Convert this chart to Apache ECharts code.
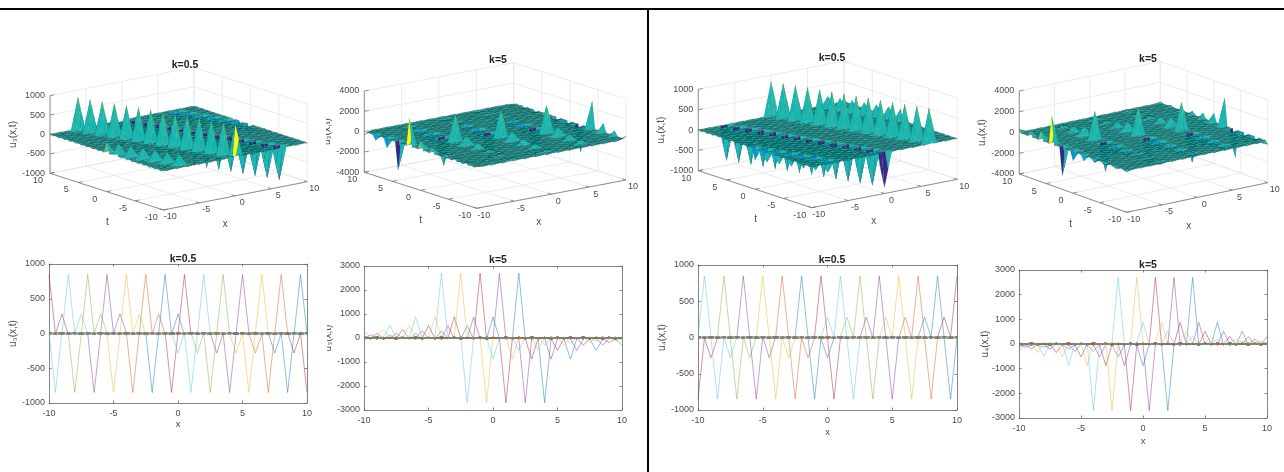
<!DOCTYPE html>
<html><head><meta charset="utf-8">
<style>html,body{margin:0;padding:0;background:#fff;overflow:hidden}
#main{position:absolute;left:0;top:0;width:1284px;height:472px;filter:blur(0.6px)}
#rules{position:absolute;left:0;top:0;width:1284px;height:472px}</style>
<script src="https://cdn.jsdelivr.net/npm/echarts@6/dist/echarts.min.js"></script>
</head><body><div id="main"></div><div id="rules"></div>
<script>
// ---- values ----
const xTicks = [-10,-5,0,5,10];
const tTicks = [-10,-5,0,5,10];
const zTicksK05 = [-1000,-500,0,500,1000];
const zTicksK5 = [-4000,-2000,0,2000,4000];
const yTicksK05 = [-1000,-500,0,500,1000];
const yTicksK5 = [-3000,-2000,-1000,0,1000,2000,3000];
const gridValues = [-10,-9.5,-9,-8.5,-8,-7.5,-7,-6.5,-6,-5.5,-5,-4.5,-4,-3.5,-3,-2.5,-2,-1.5,-1,-0.5,0,0.5,1,1.5,2,2.5,3,3.5,4,4.5,5,5.5,6,6.5,7,7.5,8,8.5,9,9.5,10];
const matlabColors = ['#0072BD','#D95319','#EDB120','#7E2F8E','#77AC30','#4DBEEE','#A2142F'];
const parulaStops = [[53,42,135],[15,92,221],[18,125,216],[7,156,207],[28,184,178],[89,189,140],[165,190,107],[225,185,82],[249,251,14]];
const rippleK05 = [12,-9,14,-11,8,-13,10,-8,13,-12,9,-10,14,-9,11,-13,8,-10,12,-14,9,-8,13,-11,10,-12,14,-9,8,-13,11,-10,12,-8,14,-11,9,-13,10,-12,8];
const rippleK5 = [42,-30,55,-38,26,-48,34,-28,50,-40,30,-36,52,-26,38,-46,28,-34,44,-50,30,-28,48,-36,34,-42,54,-30,26,-46,40,-32,44,-28,52,-38,30,-48,36,-42,28];
const columnRippleShare = [1,-0.6,0.4];

const u3k05Spikes = [
 [-6.5,9.5,850],[-6,8,850],[-5.5,6.5,850],[-5,5,850],[-4.5,3.5,850],[-4,2,850],[-3.5,0.5,850],[-3,-1,850],[-2.5,-2.5,850],[-2,-4,850],[-1.5,-5.5,850],[-1,-7,850],[-0.5,-8.5,850],[0,-10,850],
 [0,10,-850],[0.5,8.5,-850],[1,7,-850],[1.5,5.5,-850],[2,4,-850],[2.5,2.5,-850],[3,1,-850],[3.5,-0.5,-850],[4,-2,-850],[4.5,-3.5,-850],[5,-5,-850],[5.5,-6.5,-850],[6,-8,-850],[6.5,-9.5,-850],
 [-10,0,280],[-9.5,-1.5,280],[-9,-3,280],[-8.5,-4.5,280],[-8,-6,280],[-7.5,-7.5,280],[-7,-9,280],
 [10,0,-280],[9.5,1.5,-280],[9,3,-280],[8.5,4.5,-280],[8,6,-280],[7.5,7.5,-280],[7,9,-280]];
const u4k05Spikes = [
 [-6.5,9.5,-850],[-6,8,-850],[-5.5,6.5,-850],[-5,5,-850],[-4.5,3.5,-850],[-4,2,-850],[-3.5,0.5,-850],[-3,-1,-850],[-2.5,-2.5,-850],[-2,-4,-850],[-1.5,-5.5,-850],[-1,-7,-850],[-0.5,-8.5,-850],[0,-10,-850],
 [0,10,850],[0.5,8.5,850],[1,7,850],[1.5,5.5,850],[2,4,850],[2.5,2.5,850],[3,1,850],[3.5,-0.5,850],[4,-2,850],[4.5,-3.5,850],[5,-5,850],[5.5,-6.5,850],[6,-8,850],[6.5,-9.5,850],
 [-10,0,-280],[-9.5,-1.5,-280],[-9,-3,-280],[-8.5,-4.5,-280],[-8,-6,-280],[-7.5,-7.5,-280],[-7,-9,-280],
 [10,0,280],[9.5,1.5,280],[9,3,280],[8.5,4.5,280],[8,6,280],[7.5,7.5,280],[7,9,280]];
const u3k5Spikes = [
 [-10,2,2700],[-10,0,880],[-10,-2,520],[-10,-4,300],[-10,-6,200],[-10,-8,130],[-10,-10,90],[-10,4,-2700],[-10,6,-880],[-10,8,-520],[-10,10,-300],
 [-5,0.5,2700],[-5,-1.5,880],[-5,-3.5,520],[-5,-5.5,300],[-5,-7.5,200],[-5,-9.5,130],[-5,2.5,-2700],[-5,4.5,-880],[-5,6.5,-520],[-5,8.5,-300],
 [0,-1,2700],[0,-3,880],[0,-5,520],[0,-7,350],[0,-9,200],[0,1,-2700],[0,3,-880],[0,5,-520],[0,7,-300],[0,9,-200],
 [5,-2.5,2700],[5,-4.5,880],[5,-6.5,520],[5,-8.5,350],[5,-0.5,-2700],[5,1.5,-880],[5,3.5,-520],[5,5.5,-300],[5,7.5,-200],[5,9.5,-130],
 [10,-4,2700],[10,-6,880],[10,-8,520],[10,-10,300],[10,-2,-2700],[10,0,-880],[10,2,-520],[10,4,-300],[10,6,-200],[10,8,-130],[10,10,-90]];
const u4k5Spikes = [
 [-10,2,-2700],[-10,0,-880],[-10,-2,-520],[-10,-4,-300],[-10,-6,-200],[-10,-8,-130],[-10,-10,-90],[-10,4,2700],[-10,6,880],[-10,8,520],[-10,10,300],
 [-5,0.5,-2700],[-5,-1.5,-880],[-5,-3.5,-520],[-5,-5.5,-300],[-5,-7.5,-200],[-5,-9.5,-130],[-5,2.5,2700],[-5,4.5,880],[-5,6.5,520],[-5,8.5,300],
 [0,-1,-2700],[0,-3,-880],[0,-5,-520],[0,-7,-350],[0,-9,-200],[0,1,2700],[0,3,880],[0,5,520],[0,7,300],[0,9,200],
 [5,-2.5,-2700],[5,-4.5,-880],[5,-6.5,-520],[5,-8.5,-350],[5,-0.5,2700],[5,1.5,880],[5,3.5,520],[5,5.5,300],[5,7.5,200],[5,9.5,130],
 [10,-4,-2700],[10,-6,-880],[10,-8,-520],[10,-10,-300],[10,-2,2700],[10,0,880],[10,2,520],[10,4,300],[10,6,200],[10,8,130],[10,10,90]];

// ---- helpers ----
const FONT = '"Liberation Sans",Arial,sans-serif';
const TXT = '#4a4a4a';
function buildSurface(spikes, ripple){
  const Z = gridValues.map((_,j)=>gridValues.map((_,i)=>ripple[i]*columnRippleShare[j%3]));
  spikes.forEach(s=>{Z[gridValues.indexOf(s[0])][gridValues.indexOf(s[1])] = s[2];});
  return Z;
}
// surface mesh height: each spike also carries its x-neighbours at half height, as the fat cones in the 3-D views do
function buildMeshHeights(spikes, Z){
  const G = Z.map(c=>c.slice());
  spikes.forEach(s=>{
    const j=gridValues.indexOf(s[0]), i=gridValues.indexOf(s[1]);
    [j-1,j+1].forEach(n=>{ if(n>=0&&n<G.length&&Math.abs(G[n][i])<Math.abs(s[2])/2) G[n][i]=s[2]/2; });
  });
  return G;
}
function parula(f){
  const p = Math.max(0,Math.min(1,f))*(parulaStops.length-1), i = Math.min(Math.floor(p),parulaStops.length-2), d = p-i;
  const c = [0,1,2].map(k=>Math.round(parulaStops[i][k]+(parulaStops[i+1][k]-parulaStops[i][k])*d));
  return 'rgb('+c.join(',')+')';
}
const grids=[],xAxes=[],yAxes=[],series=[],titles=[];
function addTitle(text,cx,cy){
  titles.push({text,left:cx,top:cy-8.5,textAlign:'center',textStyle:{fontFamily:FONT,fontSize:10.5,fontWeight:'bold',color:'#222'}});
}
function addSurfacePanel(cfg){
  const Z = buildSurface(cfg.spikes,cfg.ripple), G = buildMeshHeights(cfg.spikes,Z), zT = cfg.zTicks, zMin=zT[0], zMax=zT[zT.length-1];
  const all = Z.flat(), cMin=Math.min(...all), cMax=Math.max(...all), steep=cMax*0.12;
  const L=cfg.L,F=cfg.F,R=cfg.R,H=cfg.H;
  const left=L[0], right=R[0], bottom=F[1], top=L[1]+R[1]-F[1]-H-4;
  const gi=grids.length;
  grids.push({left,top,width:right-left,height:bottom-top,show:false});
  xAxes.push({gridIndex:gi,type:'value',min:0,max:1,show:false});
  yAxes.push({gridIndex:gi,type:'value',min:0,max:1,show:false});
  const view=(x,t,z)=>{
    const a=(x+10)/20,b=(t+10)/20,c=(z-zMin)/(zMax-zMin);
    const sx=F[0]+a*(R[0]-F[0])+b*(L[0]-F[0]);
    const sy=F[1]+a*(R[1]-F[1])+b*(L[1]-F[1])-c*H;
    return [(sx-left)/(right-left),(bottom-sy)/(bottom-top)];
  };
  const seg=[];
  const light='#e6e6e6',dark='#777';
  xTicks.forEach(x=>{seg.push([x,-10,zMin,x,10,zMin,light]);seg.push([x,10,zMin,x,10,zMax,light]);});
  tTicks.forEach(t=>{seg.push([-10,t,zMin,10,t,zMin,light]);seg.push([10,t,zMin,10,t,zMax,light]);});
  zT.forEach(z=>{seg.push([-10,10,z,10,10,z,light]);seg.push([10,10,z,10,-10,z,light]);});
  seg.push([-10,10,zMin,-10,10,zMax,dark],[-10,10,zMin,-10,-10,zMin,dark],[-10,-10,zMin,10,-10,zMin,dark]);
  xTicks.forEach(x=>seg.push([x,-10,zMin,x,-9.4,zMin,dark]));
  tTicks.forEach(t=>seg.push([-10,t,zMin,-9.4,t,zMin,dark]));
  zT.forEach(z=>seg.push([-10,10,z,-9.4,10,z,dark]));
  series.push({type:'custom',coordinateSystem:'cartesian2d',xAxisIndex:gi,yAxisIndex:gi,silent:true,z:1,clip:false,animation:false,progressive:0,
    data:seg.map(s=>s.slice(0,6)),
    renderItem:(p,api)=>{const s=seg[p.dataIndex];const a=api.coord(view(s[0],s[1],s[2])),b=api.coord(view(s[3],s[4],s[5]));
      return {type:'line',shape:{x1:a[0],y1:a[1],x2:b[0],y2:b[1]},style:{stroke:s[6],lineWidth:0.8}};}});
  const faces=[];
  for(let i=gridValues.length-2;i>=0;i--)for(let j=gridValues.length-2;j>=0;j--)faces.push([j,i]);
  const deepest=(j,i)=>{ // the far wall of a pit shows the colour of the pit's floor
    const here=Z[j][i], next=Z[j+1][i];
    return next<here&&next<-steep ? next : here;
  };
  series.push({type:'custom',coordinateSystem:'cartesian2d',xAxisIndex:gi,yAxisIndex:gi,silent:true,z:2,clip:false,animation:false,progressive:0,
    data:faces,
    renderItem:(p,api)=>{const f=faces[p.dataIndex],j=f[0],i=f[1];
      const corners=[[j,i],[j+1,i],[j+1,i+1],[j,i+1]];
      const pts=corners.map(q=>api.coord(view(gridValues[q[0]],gridValues[q[1]],G[q[0]][q[1]])));
      const isSteep=corners.some(q=>Math.abs(G[q[0]][q[1]])>steep);
      return {type:'polygon',shape:{points:pts},style:{fill:parula((deepest(j,i)-cMin)/(cMax-cMin)),stroke:isSteep?'rgba(0,40,40,0.12)':'rgba(0,0,0,0.52)',lineWidth:0.45}};}});
  const labels=[];
  const pos=(x,t,z,dx,dy)=>{return {v:view(x,t,z),dx,dy};};
  xTicks.forEach(x=>labels.push({text:String(x),at:pos(x,-10,zMin,7,7),align:'center'}));
  tTicks.forEach(t=>labels.push({text:String(t),at:pos(-10,t,zMin,-12,7.5),align:'center'}));
  zT.forEach(z=>labels.push({text:String(z),at:pos(-10,10,z,-5,0),align:'right'}));
  labels.push({text:'x',at:pos(-10,-10,zMin,62,14),align:'center',size:10});
  labels.push({text:'t',at:pos(-10,-10,zMin,-56,12),align:'center',size:10});
  labels.push({text:cfg.zName,at:pos(-10,10,(zMin+zMax)/2,-37,0),align:'center',size:10,rot:Math.PI/2});
  series.push({type:'custom',coordinateSystem:'cartesian2d',xAxisIndex:gi,yAxisIndex:gi,silent:true,z:3,clip:false,animation:false,
    data:labels.map((_,i)=>[i]),
    renderItem:(p,api)=>{const l=labels[p.dataIndex],c=api.coord(l.at.v);
      return {type:'text',x:c[0]+l.at.dx,y:c[1]+l.at.dy,rotation:l.rot||0,
        style:{text:l.text,fill:TXT,fontFamily:FONT,fontSize:l.size||9,align:l.align,verticalAlign:'middle'}};}});
  addTitle(cfg.title,cfg.tc[0],cfg.tc[1]);
}
function addLinePanel(cfg){
  const Z=buildSurface(cfg.spikes,cfg.ripple), gi=grids.length, yT=cfg.yTicks;
  grids.push({left:cfg.box[0],top:cfg.box[1],width:cfg.box[2]-cfg.box[0],height:cfg.box[3]-cfg.box[1],show:false});
  const line={lineStyle:{color:'#666',width:0.8}}, tick={inside:true,length:2.5,lineStyle:{color:'#666',width:0.8}};
  const lab={color:TXT,fontFamily:FONT,fontSize:9,margin:4,formatter:v=>String(v)};
  const xi=xAxes.length, yi=yAxes.length;
  const common={type:'value',gridIndex:gi,splitLine:{show:false},axisLine:{show:true,onZero:false,...line},axisTick:{show:true,...tick}};
  xAxes.push({...common,position:'bottom',min:-10,max:10,interval:5,axisLabel:{...lab,margin:6},name:'x',nameLocation:'middle',nameGap:cfg.xGap,nameMoveOverlap:false,nameTextStyle:{color:TXT,fontFamily:FONT,fontSize:9.5}});
  xAxes.push({...common,position:'top',min:-10,max:10,interval:5,axisLabel:{show:false}});
  yAxes.push({...common,position:'left',min:yT[0],max:yT[yT.length-1],interval:yT[1]-yT[0],axisLabel:lab,name:cfg.yName,nameLocation:'middle',nameRotate:90,nameGap:cfg.nameGap,nameMoveOverlap:false,nameTextStyle:{color:TXT,fontFamily:FONT,fontSize:10}});
  yAxes.push({...common,position:'right',min:yT[0],max:yT[yT.length-1],interval:yT[1]-yT[0],axisLabel:{show:false}});
  gridValues.forEach((_,j)=>{
    series.push({type:'line',xAxisIndex:xi,yAxisIndex:yi,showSymbol:false,silent:true,animation:false,z:2,
      data:gridValues.map((t,i)=>[t,Z[j][i]]),
      lineStyle:{color:matlabColors[j%7],width:1,opacity:0.45}});
  });
  addTitle(cfg.title,cfg.tc[0],cfg.tc[1]);
}
// ---- panels ----
addSurfacePanel({spikes:u3k05Spikes,ripple:rippleK05,zTicks:zTicksK05,zName:'u₃(x,t)',title:'k=0.5',tc:[180,63],L:[50,173.3],F:[163.3,210],R:[307.3,181.7],H:77.7});
addSurfacePanel({spikes:u3k5Spikes,ripple:rippleK5,zTicks:zTicksK5,zName:'u₃(x,t)',title:'k=5',tc:[493,58],L:[364.3,172.3],F:[476.7,208.3],R:[626,180],H:81.3});
addSurfacePanel({spikes:u4k05Spikes,ripple:rippleK05,zTicks:zTicksK05,zName:'u₄(x,t)',title:'k=0.5',tc:[827,56],L:[698.3,170.7],F:[811.7,207.7],R:[957.3,179.3],H:81.3});
addSurfacePanel({spikes:u4k5Spikes,ripple:rippleK5,zTicks:zTicksK5,zName:'u₄(x,t)',title:'k=5',tc:[1143,57],L:[1019.3,174],F:[1126.7,212.3],R:[1267.7,182.7],H:83});
addLinePanel({spikes:u3k05Spikes,ripple:rippleK05,yTicks:yTicksK05,yName:'u₃(x,t)',title:'k=0.5',tc:[178,257],box:[49,264,307,403],nameGap:31,xGap:16});
addLinePanel({spikes:u3k5Spikes,ripple:rippleK5,yTicks:yTicksK5,yName:'u₃(x,t)',title:'k=5',tc:[493,258],box:[364,266,622,410],nameGap:31,xGap:17});
addLinePanel({spikes:u4k05Spikes,ripple:rippleK05,yTicks:yTicksK05,yName:'u₄(x,t)',title:'k=0.5',tc:[827,258],box:[698,265,957,410],nameGap:31,xGap:17});
addLinePanel({spikes:u4k5Spikes,ripple:rippleK5,yTicks:yTicksK5,yName:'u₄(x,t)',title:'k=5',tc:[1143,263],box:[1019,270,1267,418],nameGap:29,xGap:18});

const chart=echarts.init(document.getElementById('main'),null,{renderer:'canvas'});
chart.setOption({animation:false,backgroundColor:'#fff',title:titles,grid:grids,xAxis:xAxes,yAxis:yAxes,series,
  graphic:[
   {type:'rect',z:100,silent:true,shape:{x:316,y:95,width:10,height:70},style:{fill:'#fff'}},
   {type:'rect',z:100,silent:true,shape:{x:316,y:300,width:11,height:70},style:{fill:'#fff'}},
   {type:'rect',z:100,silent:true,shape:{x:470,y:430,width:50,height:14},style:{fill:'#fff'}}
  ]});
const rules=echarts.init(document.getElementById('rules'),null,{renderer:'canvas'});
rules.setOption({animation:false,backgroundColor:'transparent',graphic:[
  {type:'rect',silent:true,shape:{x:0,y:8,width:1284,height:2},style:{fill:'#000'}},
  {type:'rect',silent:true,shape:{x:647,y:9,width:2,height:463},style:{fill:'#000'}}
]});
</script></body></html>
